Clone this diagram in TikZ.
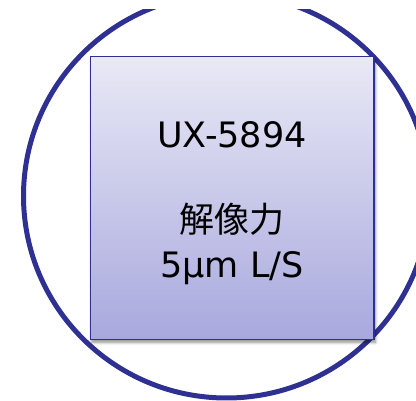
\documentclass[tikz,border=0pt]{standalone}
\usepackage{fontspec}
\setmainfont{DejaVu Sans}
\newfontfamily\cjk{Noto Sans CJK JP}
\usetikzlibrary{shadows.blur}
\definecolor{navy}{RGB}{46,49,146}
\definecolor{boxtop}{RGB}{233,233,246}
\definecolor{boxbot}{RGB}{168,168,222}
\tikzset{
  ring/.style={draw=navy, line width=5pt},
  panel/.style={draw=navy, line width=1.5pt, rectangle, top color=boxtop, bottom color=boxbot,
    blur shadow={shadow xshift=1.5pt, shadow yshift=-2.5pt, shadow blur radius=3pt, shadow opacity=45}},
  lbl/.style={anchor=base, text=black, inner sep=0pt, font=\fontsize{35}{42}\selectfont}
}
\begin{document}
\begin{tikzpicture}[x=1pt,y=-1pt]
\useasboundingbox (0,0) rectangle (416,401);
\begin{scope}
  \clip (0,10) rectangle (416,401);
  \draw[ring] (226.5,196) ellipse [x radius=203pt, y radius=202pt];
\end{scope}
\node[panel, minimum width=283.5pt, minimum height=283pt] (box) at (232,198.25) {};
\node[lbl] (model) at (232,148) {UX-5894};
\node[lbl, font=\cjk\fontsize{35}{42}\selectfont] (res) at (232,233) {解像力};
\node[lbl] (spec) at (232,278) {5µm L/S};
\end{tikzpicture}
\end{document}
